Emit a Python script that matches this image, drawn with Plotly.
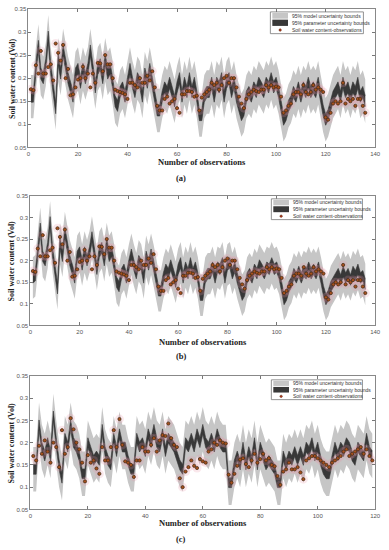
import plotly.graph_objects as go

# ---------------- data ----------------
obs_ab = [0.176, 0.174, 0.228, 0.210, 0.259, 0.210, 0.210, 0.224, 0.230, 0.195,
          0.275, 0.255, 0.238, 0.272, 0.200, 0.220, 0.163, 0.165, 0.180, 0.197,
          0.200, 0.225, 0.200, 0.210, 0.180, 0.210, 0.190, 0.233, 0.232, 0.215,
          0.250, 0.230, 0.230, 0.200, 0.175, 0.172, 0.170, 0.168, 0.165, 0.155,
          0.190, 0.190, 0.185, 0.180, 0.200, 0.190, 0.190, 0.205, 0.195, 0.215,
          0.180, 0.140, 0.130, 0.130, 0.155, 0.160, 0.145, 0.150, 0.155, 0.135,
          0.125, 0.165, 0.165, 0.172, 0.172, 0.170, 0.160, 0.162, 0.130, 0.158,
          0.165, 0.170, 0.175, 0.190, 0.185, 0.190, 0.175, 0.185, 0.200, 0.205,
          0.190, 0.200, 0.200, 0.180, 0.160, 0.145, 0.135, 0.155, 0.165, 0.170,
          0.175, 0.172, 0.170, 0.175, 0.175, 0.185, 0.180, 0.185, 0.180, 0.182,
          0.180, 0.160, 0.125, 0.130, 0.140, 0.145, 0.165, 0.170, 0.170, 0.165,
          0.185, 0.170, 0.165, 0.170, 0.185, 0.175, 0.180, 0.175, 0.170, 0.115,
          0.110, 0.125, 0.145, 0.150, 0.145, 0.150, 0.190, 0.145, 0.155, 0.150,
          0.155, 0.140, 0.155, 0.155, 0.140, 0.125]

sim_a = [0.160, 0.160, 0.220, 0.270, 0.210, 0.200, 0.230, 0.290, 0.220, 0.180,
         0.135, 0.240, 0.210, 0.260, 0.230, 0.200, 0.180, 0.160, 0.210, 0.220,
         0.190, 0.220, 0.200, 0.220, 0.260, 0.220, 0.180, 0.220, 0.230, 0.200,
         0.240, 0.210, 0.220, 0.190, 0.150, 0.140, 0.170, 0.180, 0.160, 0.190,
         0.220, 0.190, 0.170, 0.200, 0.190, 0.160, 0.210, 0.190, 0.220, 0.190,
         0.160, 0.130, 0.130, 0.160, 0.180, 0.170, 0.190, 0.170, 0.150, 0.180,
         0.200, 0.160, 0.190, 0.170, 0.200, 0.170, 0.190, 0.160, 0.120, 0.120,
         0.160, 0.170, 0.170, 0.190, 0.160, 0.190, 0.180, 0.200, 0.160, 0.190,
         0.200, 0.170, 0.190, 0.160, 0.140, 0.120, 0.130, 0.160, 0.170, 0.160,
         0.180, 0.170, 0.190, 0.180, 0.170, 0.190, 0.180, 0.200, 0.180, 0.190,
         0.170, 0.140, 0.110, 0.120, 0.140, 0.150, 0.170, 0.160, 0.180, 0.160,
         0.180, 0.170, 0.190, 0.170, 0.180, 0.170, 0.190, 0.160, 0.130, 0.110,
         0.120, 0.140, 0.160, 0.170, 0.180, 0.160, 0.190, 0.170, 0.180, 0.160,
         0.180, 0.170, 0.190, 0.160, 0.170, 0.150]

sim_b = [0.160, 0.165, 0.220, 0.275, 0.210, 0.200, 0.230, 0.290, 0.220, 0.180,
         0.135, 0.240, 0.210, 0.265, 0.230, 0.200, 0.180, 0.160, 0.210, 0.220,
         0.190, 0.220, 0.200, 0.220, 0.255, 0.220, 0.180, 0.220, 0.230, 0.200,
         0.240, 0.210, 0.220, 0.190, 0.150, 0.140, 0.170, 0.180, 0.160, 0.190,
         0.215, 0.190, 0.170, 0.200, 0.190, 0.160, 0.210, 0.190, 0.215, 0.190,
         0.160, 0.130, 0.130, 0.160, 0.180, 0.170, 0.190, 0.170, 0.150, 0.180,
         0.195, 0.160, 0.185, 0.170, 0.195, 0.170, 0.185, 0.160, 0.120, 0.120,
         0.160, 0.170, 0.170, 0.185, 0.160, 0.185, 0.180, 0.195, 0.160, 0.190,
         0.195, 0.170, 0.185, 0.160, 0.140, 0.120, 0.130, 0.160, 0.170, 0.160,
         0.180, 0.170, 0.190, 0.180, 0.170, 0.185, 0.180, 0.195, 0.180, 0.185,
         0.170, 0.140, 0.110, 0.120, 0.140, 0.150, 0.170, 0.160, 0.175, 0.160,
         0.175, 0.170, 0.185, 0.170, 0.180, 0.170, 0.185, 0.160, 0.130, 0.110,
         0.120, 0.140, 0.150, 0.160, 0.170, 0.155, 0.175, 0.160, 0.170, 0.155,
         0.175, 0.165, 0.180, 0.160, 0.165, 0.145]

obs_c = [0.170, 0.160, 0.193, 0.175, 0.205, 0.180, 0.155, 0.200, 0.190, 0.145,
         0.228, 0.175, 0.190, 0.255, 0.230, 0.200, 0.185, 0.155, 0.113, 0.172,
         0.155, 0.160, 0.142, 0.130, 0.190, 0.160, 0.160, 0.190, 0.228, 0.190,
         0.253, 0.195, 0.158, 0.155, 0.150, 0.123, 0.160, 0.160, 0.190, 0.180,
         0.180, 0.195, 0.210, 0.180, 0.205, 0.217, 0.215, 0.243, 0.210, 0.195,
         0.190, 0.120, 0.100, 0.135, 0.145, 0.160, 0.148, 0.143, 0.163, 0.158,
         0.155, 0.180, 0.185, 0.200, 0.195, 0.205, 0.200, 0.198, 0.128, 0.110,
         0.130, 0.148, 0.162, 0.165, 0.152, 0.145, 0.160, 0.175, 0.155, 0.163,
         0.175, 0.160, 0.165, 0.150, 0.147, 0.125, 0.105, 0.135, 0.140, 0.155,
         0.140, 0.140, 0.145, 0.133, 0.118, 0.160, 0.165, 0.170, 0.170, 0.165,
         0.160, 0.155, 0.150, 0.145, 0.155, 0.160, 0.165, 0.170, 0.180, 0.185,
         0.170, 0.175, 0.180, 0.185, 0.190, 0.175, 0.185, 0.170, 0.160]

sim_c = [0.140, 0.140, 0.240, 0.190, 0.170, 0.200, 0.170, 0.260, 0.200, 0.150,
         0.120, 0.210, 0.190, 0.240, 0.200, 0.190, 0.170, 0.130, 0.130, 0.200,
         0.180, 0.160, 0.170, 0.160, 0.230, 0.180, 0.160, 0.150, 0.210, 0.180,
         0.220, 0.190, 0.190, 0.160, 0.140, 0.140, 0.210, 0.190, 0.200, 0.180,
         0.220, 0.200, 0.230, 0.200, 0.190, 0.220, 0.180, 0.210, 0.200, 0.190,
         0.170, 0.150, 0.140, 0.200, 0.190, 0.210, 0.190, 0.220, 0.200, 0.230,
         0.200, 0.190, 0.210, 0.190, 0.220, 0.200, 0.190, 0.190, 0.110, 0.110,
         0.150, 0.170, 0.150, 0.190, 0.150, 0.180, 0.160, 0.200, 0.150, 0.190,
         0.170, 0.150, 0.160, 0.150, 0.140, 0.110, 0.110, 0.170, 0.150, 0.170,
         0.160, 0.180, 0.160, 0.180, 0.160, 0.190, 0.180, 0.200, 0.170, 0.190,
         0.160, 0.140, 0.130, 0.130, 0.160, 0.190, 0.170, 0.190, 0.180, 0.200,
         0.190, 0.170, 0.160, 0.190, 0.180, 0.170, 0.210, 0.180, 0.170]

# 95% band half-widths (volumetric water content)
model_half = {"a": 0.047, "b": 0.048, "c": 0.050}
param_half = {"a": 0.012, "b": 0.012, "c": 0.011}

x_ticks_ab = [0, 20, 40, 60, 80, 100, 120, 140]
x_ticks_c = [0, 20, 40, 60, 80, 100, 120]
y_ticks = [0.05, 0.1, 0.15, 0.2, 0.25, 0.3, 0.35]
y_tick_text = ["0.05", "0.1", "0.15", "0.2", "0.25", "0.3", "0.35"]

legend_labels = ["95% model uncertainty bounds",
                 "95% parameter uncertainty bounds",
                 "Soil water content-observations"]

# ---------------- layout helpers ----------------
W, H = 389, 550
def px(x):
    return x / W
def py(y):
    return 1 - y / H

GREY = "#c6c6c6"
DARK = "#383838"
SERIF = "Liberation Serif"
SANS = "Liberation Sans"

panels = [
    ("a", obs_ab, sim_a, 140, x_ticks_ab, (27, 6, 381, 146), "(a)", (274, 9, 369, 31), 161, 177),
    ("b", obs_ab, sim_b, 140, x_ticks_ab, (29, 195, 381, 326), "(b)", (275, 198, 368, 219), 343, 357),
    ("c", obs_c, sim_c, 120, x_ticks_c, (29, 377, 381, 512), "(c)", (275, 381, 368, 401), 526, 542),
]

fig = go.Figure()
shapes = []
annotations = []
layout = {}

for i, (key, obs, sim, xmax, xt, box, lab, lbox, xt_y, lab_y) in enumerate(panels):
    n = len(obs)
    sim = sim[:n]
    xs = list(range(1, n + 1))
    sfx = "" if i == 0 else str(i + 1)
    xa, ya = "x" + sfx, "y" + sfx
    mh, ph = model_half[key], param_half[key]

    fig.add_trace(go.Scatter(x=xs, y=[s - mh for s in sim], mode="lines",
                             line=dict(width=0, color=GREY), showlegend=False,
                             hoverinfo="skip", xaxis=xa, yaxis=ya))
    fig.add_trace(go.Scatter(x=xs, y=[s + mh for s in sim], mode="lines",
                             line=dict(width=0, color=GREY), fill="tonexty",
                             fillcolor=GREY, showlegend=False, name=legend_labels[0],
                             xaxis=xa, yaxis=ya))
    fig.add_trace(go.Scatter(x=xs, y=[s - ph for s in sim], mode="lines",
                             line=dict(width=0.6, color=DARK), showlegend=False,
                             hoverinfo="skip", xaxis=xa, yaxis=ya))
    fig.add_trace(go.Scatter(x=xs, y=[s + ph for s in sim], mode="lines",
                             line=dict(width=0.6, color=DARK), fill="tonexty",
                             fillcolor=DARK, showlegend=False, name=legend_labels[1],
                             xaxis=xa, yaxis=ya))
    # faint halo around observations
    fig.add_trace(go.Scatter(x=xs, y=obs, mode="markers",
                             marker=dict(size=9, color="rgba(232,150,170,0.22)", line=dict(width=0)),
                             showlegend=False, hoverinfo="skip", xaxis=xa, yaxis=ya))
    fig.add_trace(go.Scatter(x=xs, y=obs, mode="markers",
                             marker=dict(size=3.2, color="#a8501e", line=dict(width=0.7, color="#3e2a12")),
                             showlegend=False, name=legend_labels[2], xaxis=xa, yaxis=ya))

    l, t, r, b = box
    layout["xaxis" + sfx] = dict(
        domain=[px(l), px(r)], anchor=ya, range=[0, xmax], tickvals=xt,
        ticks="inside", ticklen=3, tickcolor="#777", showline=True, linecolor="#888",
        linewidth=1, mirror="ticks", showgrid=False, zeroline=False,
        tickfont=dict(family=SANS, size=6, color="#555"))
    layout["yaxis" + sfx] = dict(
        domain=[py(b), py(t)], anchor=xa, range=[0.05, 0.35], tickvals=y_ticks,
        ticktext=y_tick_text, ticks="inside", ticklen=3, tickcolor="#777",
        showline=True, linecolor="#888", linewidth=1, mirror="ticks",
        showgrid=False, zeroline=False,
        tickfont=dict(family=SANS, size=6, color="#555"))

    annotations.append(dict(x=px((l + r) / 2), y=py(xt_y), xref="paper", yref="paper",
                            text="<b>Number of observations</b>", showarrow=False,
                            font=dict(family=SERIF, size=8.5, color="#222"),
                            xanchor="center", yanchor="middle"))
    annotations.append(dict(x=px(10), y=py((t + b) / 2), xref="paper", yref="paper",
                            text="<b>Soil water content (Vol)</b>", showarrow=False,
                            textangle=-90, font=dict(family=SERIF, size=8, color="#222"),
                            xanchor="center", yanchor="middle"))
    annotations.append(dict(x=px(183), y=py(lab_y), xref="paper", yref="paper",
                            text="<b>" + lab + "</b>", showarrow=False,
                            font=dict(family=SERIF, size=8.5, color="#222"),
                            xanchor="center", yanchor="middle"))

    # legend box
    L, T, R, B = lbox
    shapes.append(dict(type="rect", xref="paper", yref="paper",
                       x0=px(L), x1=px(R), y0=py(B), y1=py(T),
                       line=dict(color="#777", width=0.8), fillcolor="white"))
    rowh = (B - T) / 3.0
    shapes.append(dict(type="rect", xref="paper", yref="paper",
                       x0=px(L + 2), x1=px(L + 18), y0=py(T + rowh - 0.5), y1=py(T + 1),
                       line=dict(width=0), fillcolor=GREY))
    shapes.append(dict(type="rect", xref="paper", yref="paper",
                       x0=px(L + 2), x1=px(L + 18), y0=py(T + 2 * rowh - 0.5), y1=py(T + rowh + 0.5),
                       line=dict(width=0), fillcolor=DARK))
    cy = T + 2.5 * rowh
    shapes.append(dict(type="circle", xref="paper", yref="paper",
                       x0=px(L + 8.8), x1=px(L + 11.2), y0=py(cy + 1.2), y1=py(cy - 1.2),
                       line=dict(color="#4a2a10", width=0.5), fillcolor="#c0391f"))
    for k in range(3):
        annotations.append(dict(x=px(L + 20), y=py(T + (k + 0.5) * rowh), xref="paper", yref="paper",
                                text=legend_labels[k], showarrow=False,
                                font=dict(family=SANS, size=5, color="#333"),
                                xanchor="left", yanchor="middle"))

fig.update_layout(
    width=W, height=H, margin=dict(l=0, r=0, t=0, b=0),
    paper_bgcolor="white", plot_bgcolor="white", showlegend=False,
    shapes=shapes, annotations=annotations, **layout)

fig.write_html("out.html", config={"displayModeBar": False})

# remove the default page margin so the 389x550 figure fills the window exactly
with open("out.html", "r", encoding="utf-8") as f:
    html = f.read()
html = html.replace("<head>", "<head><style>html,body{margin:0;padding:0;overflow:hidden;}</style>", 1)
with open("out.html", "w", encoding="utf-8") as f:
    f.write(html)
